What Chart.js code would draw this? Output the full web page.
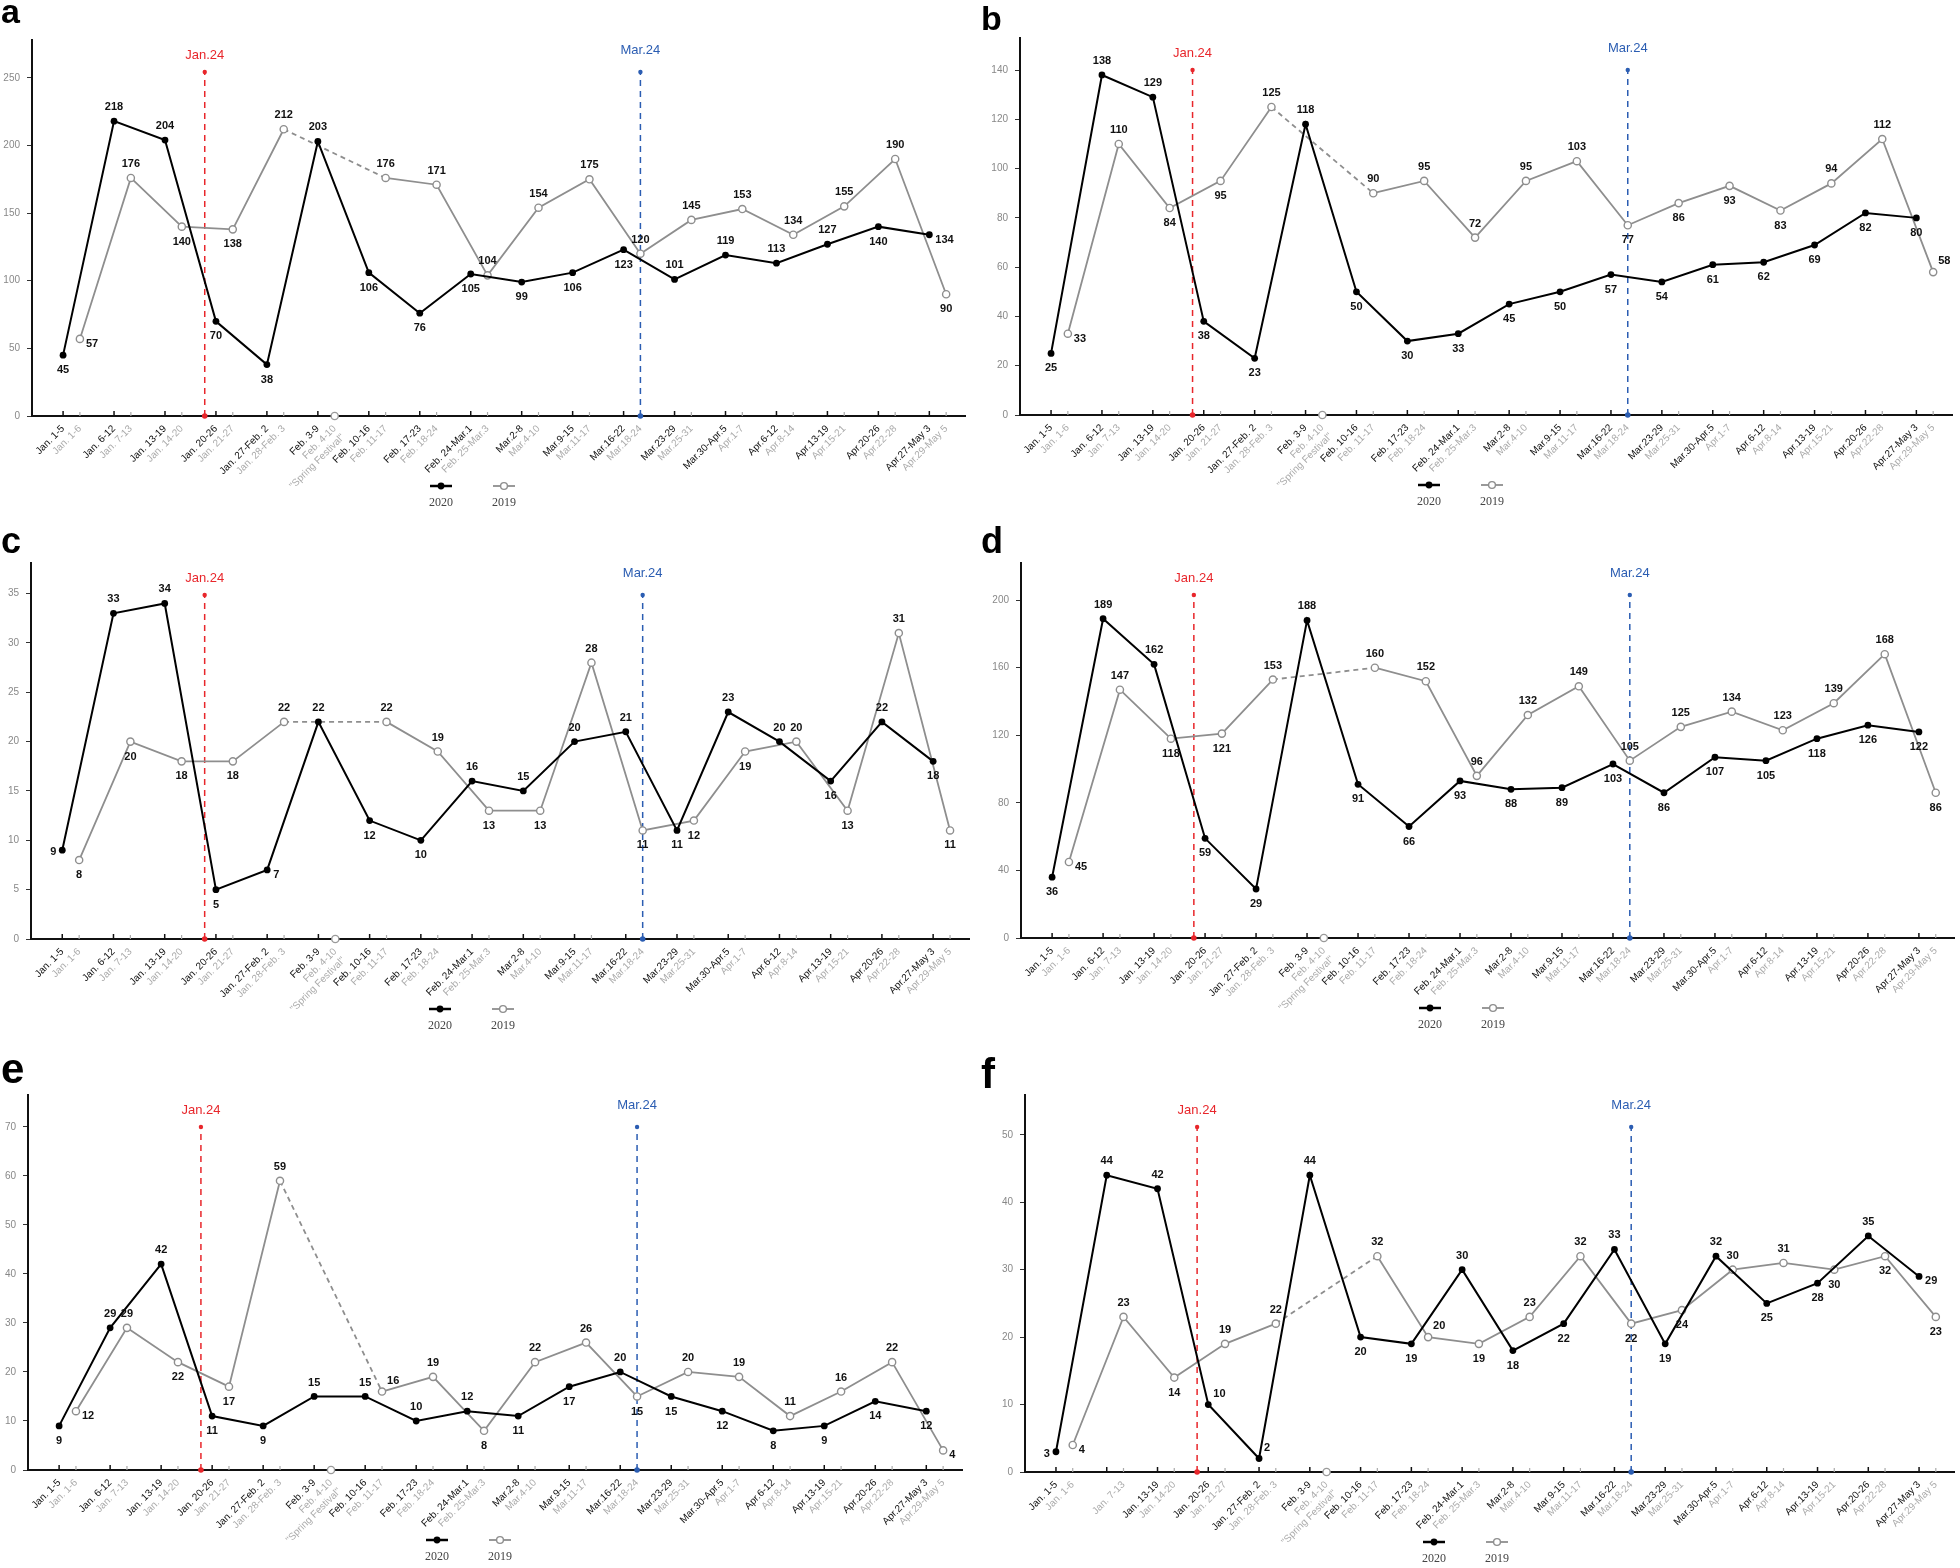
<!DOCTYPE html>
<html>
<head>
<meta charset="utf-8">
<script src="https://cdn.jsdelivr.net/npm/chart.js@4.4.1/dist/chart.umd.min.js"></script>
<style>
  body { margin: 0; background: #fff; width: 1960px; height: 1568px; position: relative; overflow: hidden; }
  .panel { position: absolute; width: 980px; }
  .letter { position: absolute; left: 1px; font-family: "Liberation Sans", Arial, sans-serif; font-weight: bold; line-height: 1; }
  canvas { position: absolute; left: 0; top: 0; }
</style>
</head>
<body>
<div class="panel" id="pa" style="left:0;top:0;height:523px"><canvas id="ca" width="980" height="523"></canvas></div>
<div class="panel" id="pb" style="left:980px;top:0;height:523px"><canvas id="cb" width="980" height="523"></canvas></div>
<div class="panel" id="pc" style="left:0;top:523px;height:522px"><canvas id="cc" width="980" height="522"></canvas></div>
<div class="panel" id="pd" style="left:980px;top:523px;height:522px"><canvas id="cd" width="980" height="522"></canvas></div>
<div class="panel" id="pe" style="left:0;top:1045px;height:523px"><canvas id="ce" width="980" height="523"></canvas></div>
<div class="panel" id="pf" style="left:980px;top:1045px;height:523px"><canvas id="cf" width="980" height="523"></canvas></div>
<script>
// week labels (2020 weeks on the main ticks, matching 2019 weeks just after them)
const weeks2020 = ["Jan. 1-5", "Jan. 6-12", "Jan. 13-19", "Jan. 20-26", "Jan. 27-Feb. 2", "Feb. 3-9",
  "Feb. 10-16", "Feb. 17-23", "Feb. 24-Mar.1", "Mar.2-8", "Mar.9-15", "Mar.16-22",
  "Mar.23-29", "Mar.30-Apr.5", "Apr.6-12", "Apr.13-19", "Apr.20-26", "Apr.27-May 3"];
const weeks2019 = ["Jan. 1-6", "Jan. 7-13", "Jan. 14-20", "Jan. 21-27", "Jan. 28-Feb. 3", ["Feb. 4-10", "\"Spring Festival\""],
  "Feb. 11-17", "Feb. 18-24", "Feb. 25-Mar.3", "Mar.4-10", "Mar.11-17", "Mar.18-24",
  "Mar.25-31", "Apr.1-7", "Apr.8-14", "Apr.15-21", "Apr.22-28", "Apr.29-May 5"];
const shift2019 = 0.33;
const springWeek = 5;
const seriesNames = ["2020", "2019"];
const eventX = [2.78, 11.33];
const eventNames = ["Jan.24", "Mar.24"];
const eventColors = ["#e8262b", "#2b5db2"];

const a2020 = [45, 218, 204, 70, 38, 203, 106, 76, 105, 99, 106, 123, 101, 119, 113, 127, 140, 134];
const a2019 = [57, 176, 140, 138, 212, 0, 176, 171, 104, 154, 175, 120, 145, 153, 134, 155, 190, 90];
const b2020 = [25, 138, 129, 38, 23, 118, 50, 30, 33, 45, 50, 57, 54, 61, 62, 69, 82, 80];
const b2019 = [33, 110, 84, 95, 125, 0, 90, 95, 72, 95, 103, 77, 86, 93, 83, 94, 112, 58];
const c2020 = [9, 33, 34, 5, 7, 22, 12, 10, 16, 15, 20, 21, 11, 23, 20, 16, 22, 18];
const c2019 = [8, 20, 18, 18, 22, 0, 22, 19, 13, 13, 28, 11, 12, 19, 20, 13, 31, 11];
const d2020 = [36, 189, 162, 59, 29, 188, 91, 66, 93, 88, 89, 103, 86, 107, 105, 118, 126, 122];
const d2019 = [45, 147, 118, 121, 153, 0, 160, 152, 96, 132, 149, 105, 125, 134, 123, 139, 168, 86];
const e2020 = [9, 29, 42, 11, 9, 15, 15, 10, 12, 11, 17, 20, 15, 12, 8, 9, 14, 12];
const e2019 = [12, 29, 22, 17, 59, 0, 16, 19, 8, 22, 26, 15, 20, 19, 11, 16, 22, 4];
const f2020 = [3, 44, 42, 10, 2, 44, 20, 19, 30, 18, 22, 33, 19, 32, 25, 28, 35, 29];
const f2019 = [4, 23, 14, 19, 22, 0, 32, 20, 19, 23, 32, 22, 24, 30, 31, 30, 32, 23];

// where each value label sits: t top, b bottom, l left, r right, u up-right
const aPos2020 = "bttbbtbbbbbbttttbr", aPos2019 = "rtbbt-tttttttttttb";
const bPos2020 = "bttbbtbbbbbbbbbbbb", bPos2019 = "rtbbt-tttttbbbbttu";
const cPos2020 = "lttbrtbbttttbttbtb", cPos2019 = "bbbbt-ttbbtbbbtbtb";
const dPos2020 = "bttbbtbbbbbbbbbbbb", dPos2019 = "rtbbt-tttttttttttb";
const ePos2020 = "bttbbttttbbtbbbbbb", ePos2019 = "rtbbt-utbttbtttttr";
const fPos2020 = "lttuutbbtbbtbtbbtr", fPos2019 = "rtbtt-tubttbbttbbb";

const FONT = "'Liberation Sans', Arial, sans-serif";

const panels = [
  { key: "a", v20: a2020, v19: a2019, p20: aPos2020, p19: aPos2019, yMax: 278, step: 50, area: [32, 40, 965, 416], letter: [34, 23] },
  { key: "b", v20: b2020, v19: b2019, p20: bPos2020, p19: bPos2019, yMax: 153, step: 20, area: [40, 38, 972, 415], letter: [34, 30] },
  { key: "c", v20: c2020, v19: c2019, p20: cPos2020, p19: cPos2019, yMax: 38.1, step: 5, area: [31, 40, 969, 416], letter: [36, 30] },
  { key: "d", v20: d2020, v19: d2019, p20: dPos2020, p19: dPos2019, yMax: 222, step: 40, area: [41, 40, 975, 415], letter: [36, 30] },
  { key: "e", v20: e2020, v19: e2019, p20: ePos2020, p19: ePos2019, yMax: 76.5, step: 10, area: [28, 50, 962, 425], letter: [42, 39] },
  { key: "f", v20: f2020, v19: f2019, p20: fPos2020, p19: fPos2019, yMax: 55.9, step: 10, area: [45, 50, 978, 427], letter: [42, 44], hide: [1] }
];

const labelOffset = {
  t: [0, -14, "center"], b: [0, 15, "center"], l: [-6, 2, "right"],
  r: [6, 5, "left"], u: [5, -11, "left"]
};

const decor = {
  id: "decor",
  beforeDatasetsDraw(chart) {
    const { ctx, chartArea: ca, scales: { x } } = chart;
    ctx.save();
    // small inward tick marks on the x axis
    x.ticks.forEach((t, i) => {
      const px = x.getPixelForValue(t.value);
      const major = i % 2 === 0;
      ctx.strokeStyle = major ? "#111" : "#aaa";
      ctx.lineWidth = major ? 1.5 : 1.2;
      ctx.beginPath();
      ctx.moveTo(px, ca.bottom);
      ctx.lineTo(px, ca.bottom - (major ? 5 : 4));
      ctx.stroke();
    });
    // Jan.24 / Mar.24 markers
    eventX.forEach((ev, k) => {
      const px = x.getPixelForValue(ev);
      const topY = ca.top + 32;
      ctx.strokeStyle = eventColors[k];
      ctx.fillStyle = eventColors[k];
      ctx.lineWidth = 1.5;
      ctx.setLineDash([6, 5]);
      ctx.beginPath();
      ctx.moveTo(px, ca.bottom);
      ctx.lineTo(px, topY);
      ctx.stroke();
      ctx.setLineDash([]);
      ctx.beginPath(); ctx.arc(px, topY, 2.2, 0, Math.PI * 2); ctx.fill();
      ctx.beginPath(); ctx.arc(px, ca.bottom, 2.8, 0, Math.PI * 2); ctx.fill();
      ctx.font = "13px " + FONT;
      ctx.textAlign = "center";
      ctx.textBaseline = "middle";
      ctx.fillText(eventNames[k], px, topY - (k === 0 ? 17 : 22));
    });
    ctx.restore();
  },
  afterDatasetsDraw(chart) {
    const { ctx, chartArea: ca } = chart;
    ctx.save();
    ctx.font = "bold 11px " + FONT;
    ctx.fillStyle = "#111";
    ctx.textBaseline = "middle";
    [0, 1].forEach(di => {
      const ds = chart.data.datasets[di];
      const meta = chart.getDatasetMeta(di);
      meta.data.forEach((el, i) => {
        const v = ds.data[i].y;
        if (v === null || el.skip) return;
        const o = labelOffset[ds.pos[i]];
        if (!o) return;
        ctx.textAlign = o[2];
        ctx.fillText(String(v), el.x + o[0], el.y + o[1]);
      });
    });
    // legend: marker line above the series name
    const cx = [ca.left + 409, ca.left + 472];
    const ly = ca.bottom + 70, ty = ca.bottom + 87;
    [0, 1].forEach(di => {
      const ds = chart.data.datasets[di];
      ctx.strokeStyle = ds.borderColor;
      ctx.lineWidth = di === 0 ? 2.5 : 1.8;
      ctx.beginPath();
      ctx.moveTo(cx[di] - 11, ly);
      ctx.lineTo(cx[di] + 11, ly);
      ctx.stroke();
      ctx.beginPath();
      ctx.arc(cx[di], ly, 3.4, 0, Math.PI * 2);
      ctx.fillStyle = ds.pointBackgroundColor;
      ctx.fill();
      if (di === 1) { ctx.lineWidth = 1.4; ctx.strokeStyle = ds.pointBorderColor; ctx.stroke(); }
      ctx.fillStyle = "#444";
      ctx.font = "12px 'Liberation Serif', 'Times New Roman', serif";
      ctx.textAlign = "center";
      ctx.textBaseline = "middle";
      ctx.fillText(ds.label, cx[di], ty);
    });
    ctx.restore();
  }
};

function makeChart(p) {
  const canvas = document.getElementById("c" + p.key);
  const W = canvas.width, H = canvas.height;
  const [l, t, r, b] = p.area;

  const letter = document.createElement("div");
  letter.className = "letter";
  letter.textContent = p.key;
  letter.style.fontSize = p.letter[0] + "px";
  letter.style.top = (p.letter[1] - 0.8465 * p.letter[0]) + "px";
  canvas.parentNode.appendChild(letter);

  const tickVals = [], tickText = [];
  weeks2020.forEach((w, i) => {
    tickVals.push(i, i + shift2019);
    tickText.push(p.hide && p.hide.includes(i) ? "" : w, weeks2019[i]);
  });

  const pts20 = p.v20.map((v, i) => ({ x: i, y: v }));
  const pts19 = p.v19.map((v, i) => ({ x: i + shift2019, y: i === springWeek ? null : v }));
  const spring = [{ x: springWeek + shift2019, y: p.v19[springWeek] }];

  new Chart(canvas, {
    type: "line",
    data: {
      datasets: [
        {
          label: seriesNames[0], data: pts20, pos: p.p20,
          borderColor: "#000", borderWidth: 2, tension: 0,
          pointRadius: 3.4, pointBackgroundColor: "#000", pointBorderColor: "#000", pointBorderWidth: 0,
          clip: false
        },
        {
          label: seriesNames[1], data: pts19, pos: p.p19,
          borderColor: "#8e8e8e", borderWidth: 1.8, tension: 0, spanGaps: true,
          segment: { borderDash: c => (c.p0.skip || c.p1.skip) ? [5, 4] : undefined },
          pointRadius: 3.6, pointBackgroundColor: "#fff", pointBorderColor: "#8e8e8e", pointBorderWidth: 1.4,
          clip: false
        },
        {
          label: "", data: spring, showLine: false,
          pointRadius: 3.6, pointBackgroundColor: "#fff", pointBorderColor: "#9a9a9a", pointBorderWidth: 1.4,
          clip: false
        }
      ]
    },
    options: {
      responsive: false,
      animation: false,
      events: [],
      layout: { padding: { left: 0, top: t, right: W - r, bottom: 0 } },
      plugins: { legend: { display: false }, tooltip: { enabled: false } },
      scales: {
        x: {
          type: "linear", min: -0.61, max: 17.7,
          afterBuildTicks: s => { s.ticks = tickVals.map(v => ({ value: v })); },
          afterFit: s => { s.height = H - b; },
          grid: { display: false, drawTicks: false },
          border: { display: true, color: "#111", width: 2 },
          ticks: {
            autoSkip: false, minRotation: 45, maxRotation: 45, padding: 7,
            callback: (v, i) => tickText[i],
            color: c => (c.index % 2 ? "#ababab" : "#111"),
            font: { family: FONT, size: 10 }
          }
        },
        y: {
          min: 0, max: p.yMax,
          afterBuildTicks: s => {
            s.ticks = s.ticks.filter(tk => Math.abs(tk.value / p.step - Math.round(tk.value / p.step)) < 1e-6);
          },
          afterFit: s => { s.width = l; },
          grid: { drawOnChartArea: false, tickLength: 5, tickColor: "#333", lineWidth: 1 },
          border: { color: "#111", width: 2 },
          ticks: { stepSize: p.step, padding: 7, color: "#888", font: { family: FONT, size: 10 } }
        }
      }
    },
    plugins: [decor]
  });
}

panels.forEach(makeChart);
</script>
</body>
</html>
